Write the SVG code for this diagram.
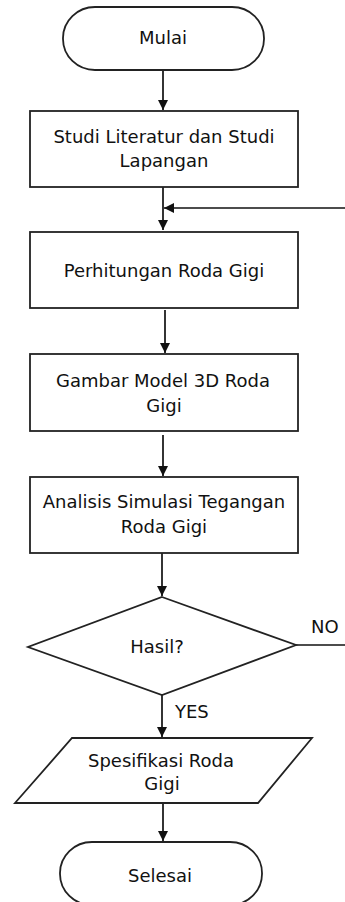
<svg xmlns="http://www.w3.org/2000/svg" width="345" height="902" viewBox="0 0 345 902">
  <defs>
    <marker id="arrow" viewBox="0 0 10 10" refX="10" refY="5" markerWidth="10" markerHeight="10" markerUnits="userSpaceOnUse" orient="auto">
      <path d="M0,0 L10,5 L0,10 Z" fill="#111"/>
    </marker>
    <style>
      .shape { fill: #fff; stroke: #222; stroke-width: 1.8; }
      .conn { fill: none; stroke: #111; stroke-width: 1.7; }
      .arr { marker-end: url(#arrow); }
      text { font-family: "DejaVu Sans", Verdana, sans-serif; font-size: 18px; fill: #111; text-anchor: middle; }
      .lbl { text-anchor: start; }
    </style>
  </defs>
  <rect width="345" height="902" fill="#fff"/>

  <!-- connectors -->
  <g id="connectors">
    <path class="conn arr" d="M163,70 V110"/>
    <path class="conn arr" d="M163,187 V230"/>
    <path class="conn arr" d="M345,208 H164"/>
    <path class="conn arr" d="M165,310 V353"/>
    <path class="conn arr" d="M163,435 V476"/>
    <path class="conn arr" d="M162,553 V596"/>
    <path class="conn" d="M296,645 H345"/>
    <path class="conn arr" d="M162,695 V737"/>
    <path class="conn arr" d="M163,803 V841"/>
    <text class="lbl" x="311" y="633">NO</text>
    <text class="lbl" x="175" y="718">YES</text>
  </g>

  <g id="start">
    <rect class="shape" x="63" y="7" width="201" height="63" rx="32" ry="31"/>
    <text x="163" y="44">Mulai</text>
  </g>

  <g id="study">
    <rect class="shape" x="30" y="111" width="268" height="76"/>
    <text x="164" y="143">Studi Literatur dan Studi</text>
    <text x="164" y="167">Lapangan</text>
  </g>

  <g id="calc">
    <rect class="shape" x="30" y="232" width="268" height="76"/>
    <text x="164" y="277">Perhitungan Roda Gigi</text>
  </g>

  <g id="model">
    <rect class="shape" x="30" y="354" width="268" height="77"/>
    <text x="163" y="387">Gambar Model 3D Roda</text>
    <text x="164" y="412">Gigi</text>
  </g>

  <g id="analysis">
    <rect class="shape" x="30" y="477" width="268" height="76"/>
    <text x="164" y="508">Analisis Simulasi Tegangan</text>
    <text x="164" y="533">Roda Gigi</text>
  </g>

  <g id="decision">
    <polygon class="shape" points="162,597 296,645 162,695 28,647"/>
    <text x="157" y="653">Hasil?</text>
  </g>

  <g id="spec">
    <polygon class="shape" points="72,738 312,738 258,803 15,803"/>
    <text x="161" y="767">Spesifikasi Roda</text>
    <text x="162" y="790">Gigi</text>
  </g>

  <g id="end">
    <rect class="shape" x="60" y="842" width="202" height="63" rx="32" ry="31"/>
    <text x="160" y="882">Selesai</text>
  </g>
</svg>
